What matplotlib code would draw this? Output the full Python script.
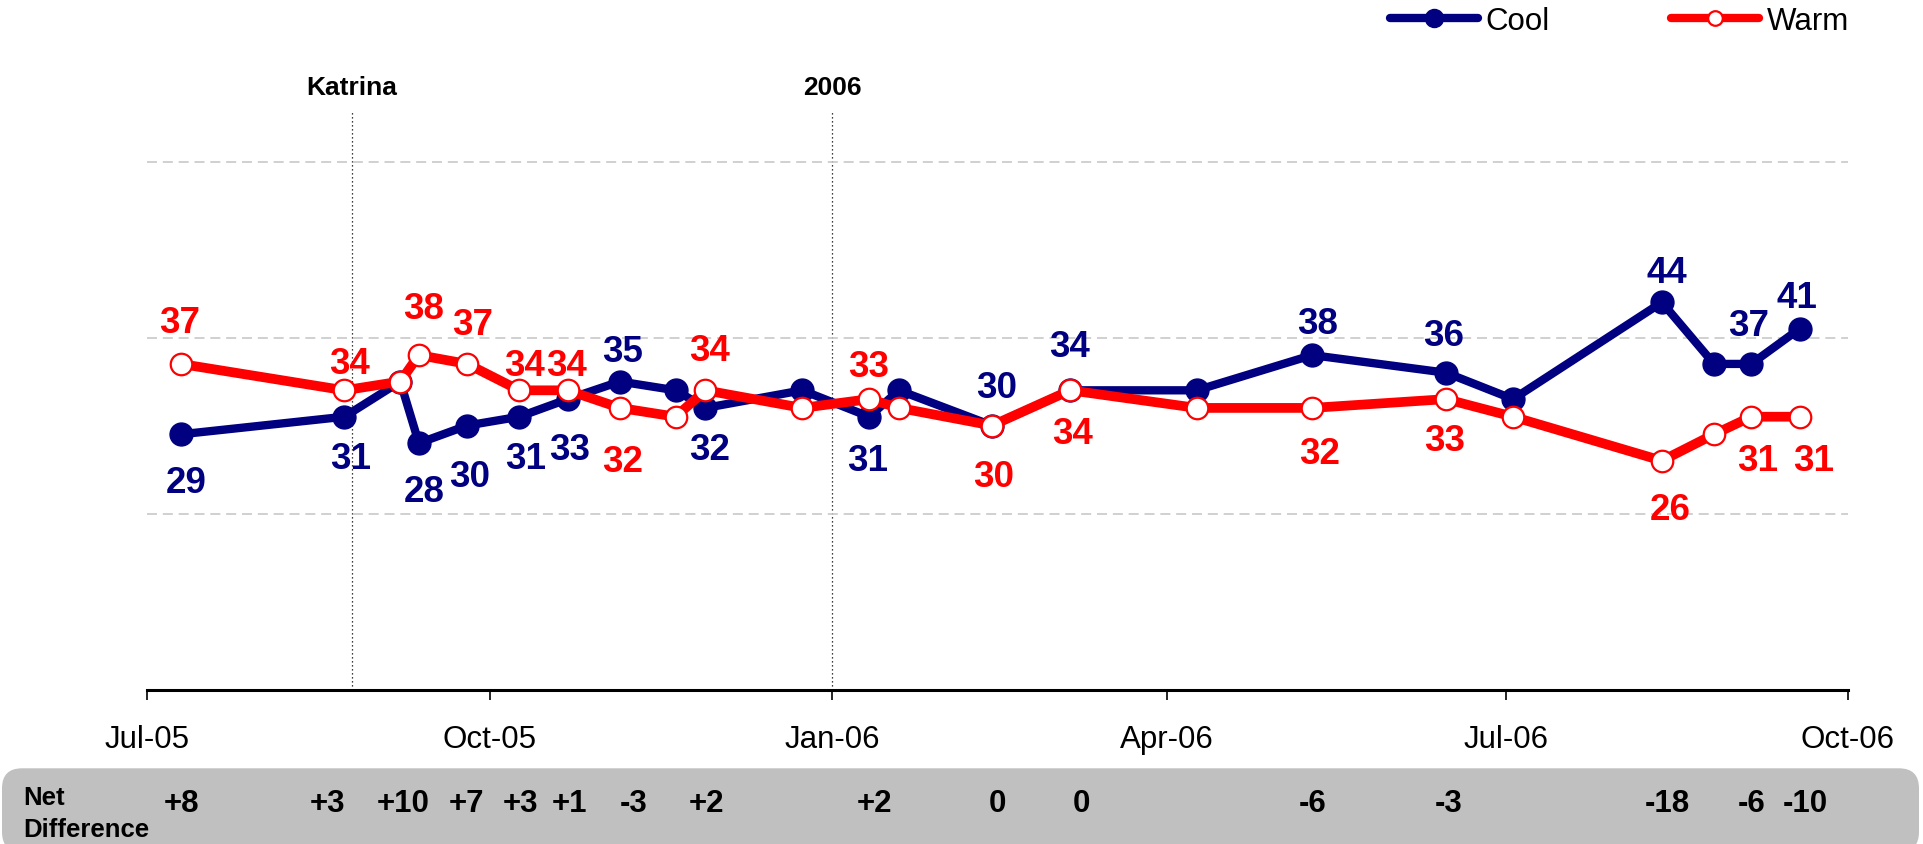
import datetime as dt
import matplotlib
matplotlib.use("Agg")
import matplotlib.pyplot as plt
import matplotlib.dates as mdates
import matplotlib.transforms as mtrans
from matplotlib.patches import FancyBboxPatch
from matplotlib.lines import Line2D

plt.rcParams['font.family'] = ['Liberation Sans', 'DejaVu Sans']

# --- data ---
dates = [dt.date(2005, 7, 10), dt.date(2005, 8, 23), dt.date(2005, 9, 7),
         dt.date(2005, 9, 12), dt.date(2005, 9, 25), dt.date(2005, 10, 9),
         dt.date(2005, 10, 22), dt.date(2005, 11, 5), dt.date(2005, 11, 20),
         dt.date(2005, 11, 28), dt.date(2005, 12, 24), dt.date(2006, 1, 11),
         dt.date(2006, 1, 19), dt.date(2006, 2, 13), dt.date(2006, 3, 6),
         dt.date(2006, 4, 9), dt.date(2006, 5, 10), dt.date(2006, 6, 15),
         dt.date(2006, 7, 3), dt.date(2006, 8, 12), dt.date(2006, 8, 26),
         dt.date(2006, 9, 5), dt.date(2006, 9, 18)]
cool = [29, 31, 35, 28, 30, 31, 33, 35, 34, 32, 34, 31, 34, 30, 34, 34, 38, 36, 33, 44, 37, 37, 41]
warm = [37, 34, 35, 38, 37, 34, 34, 32, 31, 34, 32, 33, 32, 30, 34, 32, 32, 33, 31, 26, 29, 31, 31]
# points that carry value labels (and a net difference)
labelled = [0, 1, 3, 4, 5, 6, 7, 9, 11, 13, 14, 16, 17, 19, 21, 22]

event_names = ["Katrina", "2006"]
event_dates = [dt.date(2005, 8, 25), dt.date(2006, 1, 1)]

# --- label placement (pixels: dx right, dy down from the point) ---
warm_off = [(-1, -45), (5, -30), (5, -50), (5, -43), (5, -28), (-1, -28), (3, 50), (4, -43),
            (-1, -36), (2, 47), (2, 40), (8, 42), (-1, 38), (8, 45), (6, 40), (14, 40)]
cool_off = [(5, 45), (6, 38), (5, 45), (2, 47), (6, 38), (2, 47), (3, -34), (4, 38),
            (-2, 40), (5, -42), (-1, -47), (5, -35), (-2, -41), (5, -33), (-3, -42), (-3, -35)]
net_dx = [1, -17, -16, -1, 1, 2, 14, 1, 5, 5, 11, 1, 3, 5, 0, 6]

NAVY = '#000080'
RED = '#ff0000'

W, H = 1923, 845
fig = plt.figure(figsize=(W / 100, H / 100), dpi=100)
ax_left, ax_right, ax_bottom = 147.2, 1848.0, 154.5
ax = fig.add_axes([ax_left / W, ax_bottom / H, (ax_right - ax_left) / W, (H - ax_bottom) / H])
ax.patch.set_visible(False)

ax.set_xlim(dt.date(2005, 7, 1), dt.date(2006, 10, 1))
ax.set_ylim(0, 78.47)

# grid lines
ax.set_yticks([20, 40, 60])
ax.tick_params(axis='y', length=0, labelleft=False)
ax.grid(axis='y', color='#c8c8c8', linestyle=(0, (6, 3.5)), linewidth=1.2)
ax.grid(axis='x', visible=False)

for s in ['left', 'top', 'right']:
    ax.spines[s].set_visible(False)
ax.spines['bottom'].set_linewidth(2.2)

ax.xaxis.set_major_locator(mdates.MonthLocator(bymonth=[1, 4, 7, 10]))
ax.xaxis.set_major_formatter(mdates.DateFormatter('%b-%y'))
ax.tick_params(axis='x', length=7.5, width=1.2, pad=17, labelsize=22.5)

# event markers
trans = mtrans.blended_transform_factory(ax.transData, ax.transAxes)
for name, d in zip(event_names, event_dates):
    ax.axvline(d, ymin=0, ymax=0.838, color='black', lw=0.9, linestyle=(0, (1, 2.2)), zorder=1)
    ax.text(d, 0.862, name, transform=trans, ha='center', va='baseline',
            fontsize=19, fontweight='bold')

ax.plot(dates, cool, color=NAVY, lw=6, marker='o', ms=16.5, mfc=NAVY, mec=NAVY, zorder=3)
ax.plot(dates, warm, color=RED, lw=7, marker='o', ms=15.5, mfc='white', mec=RED, mew=1.6, zorder=4)

# value labels
for k, i in enumerate(labelled):
    dx, dy = warm_off[k]
    ax.annotate(str(warm[i]), (dates[i], warm[i]), xytext=(dx, -(dy + 13)),
                textcoords='offset pixels', ha='center', va='baseline',
                fontsize=26.5, fontweight='bold', color=RED, zorder=5)
    dx, dy = cool_off[k]
    ax.annotate(str(cool[i]), (dates[i], cool[i]), xytext=(dx, -(dy + 13)),
                textcoords='offset pixels', ha='center', va='baseline',
                fontsize=26.5, fontweight='bold', color=NAVY, zorder=5)

# net difference strip
box = FancyBboxPatch((0.02, -0.08), 19.17, 0.837, boxstyle='round,pad=0,rounding_size=0.2',
                     transform=fig.dpi_scale_trans, facecolor='#c0c0c0', edgecolor='none', zorder=-1)
fig.add_artist(box)
fig.text(23 / W, 1 - 805 / H, 'Net', fontsize=18.5, fontweight='bold', va='baseline')
fig.text(23 / W, 1 - 837.3 / H, 'Difference', fontsize=18.5, fontweight='bold', va='baseline')
for k, i in enumerate(labelled):
    diff = warm[i] - cool[i]
    txt = '0' if diff == 0 else f'{diff:+d}'
    ax.annotate(txt, xy=(dates[i], 1 - 811.7 / H), xycoords=('data', 'figure fraction'),
                xytext=(net_dx[k], 0), textcoords='offset pixels', ha='center', va='baseline',
                fontsize=22.5, fontweight='bold', annotation_clip=False)

# legend
handles = [Line2D([], [], color=NAVY, lw=6, marker='o', ms=13, mfc=NAVY, mec=NAVY,
                  solid_capstyle='round'),
           Line2D([], [], color=RED, lw=6, marker='o', ms=10.5, mfc='white', mec=RED, mew=1.6,
                  solid_capstyle='round')]
fig.legend(handles, ['Cool', 'Warm'], loc='center left', bbox_to_anchor=(1390 / W, 1 - 22 / H),
           ncol=2, frameon=False, fontsize=22.5, handlelength=2.8, handletextpad=0.25,
           columnspacing=3.9, borderpad=0, borderaxespad=0, numpoints=1)

fig.savefig('out.png', dpi=100)
